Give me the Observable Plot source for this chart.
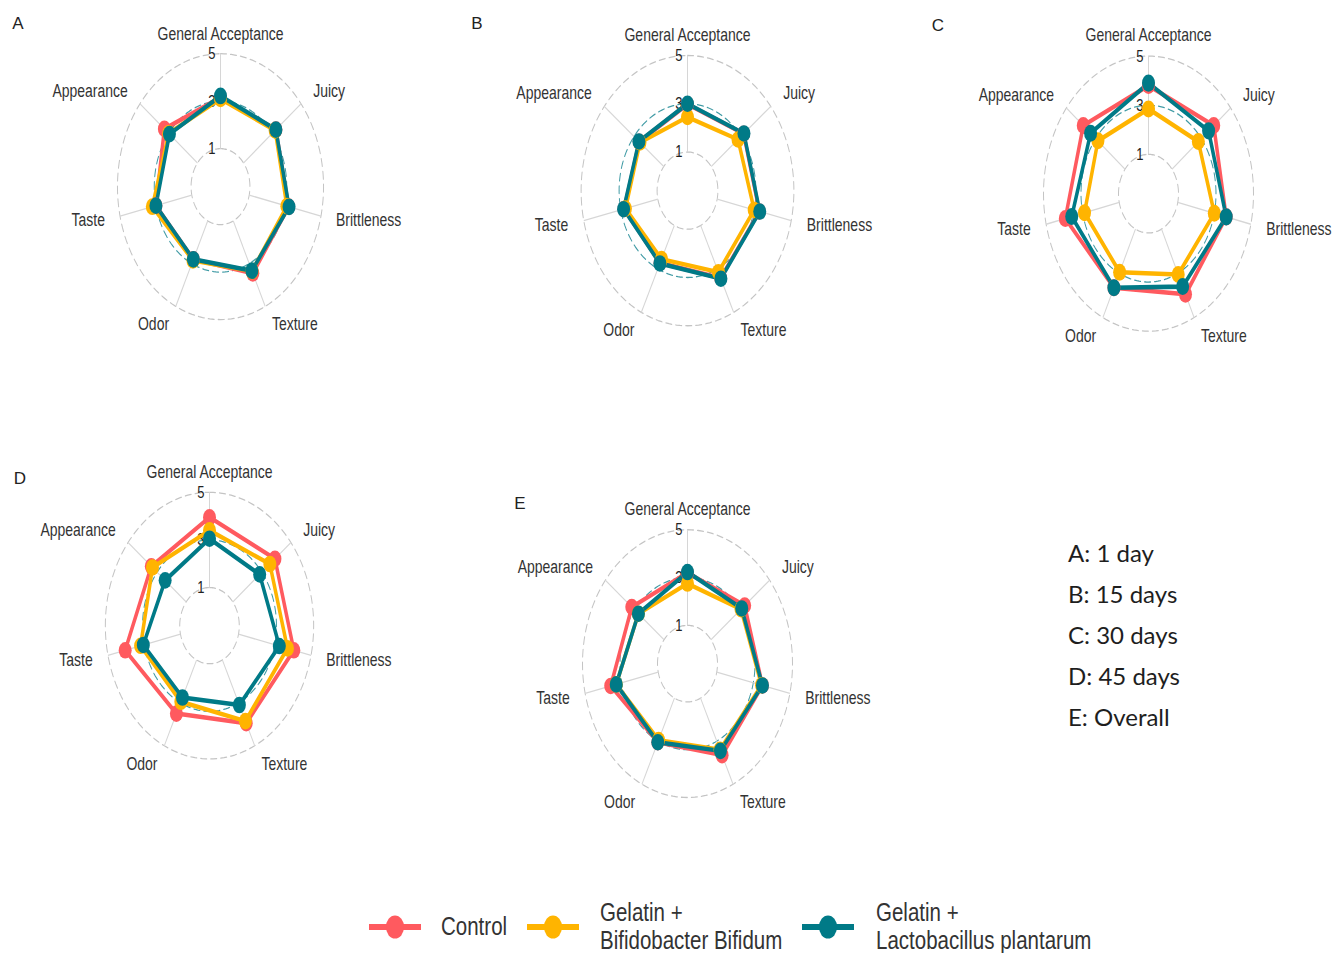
<!DOCTYPE html>
<html>
<head>
<meta charset="utf-8">
<script src="https://cdn.jsdelivr.net/npm/d3@7"></script>
<script src="https://cdn.jsdelivr.net/npm/@observablehq/plot@0.6"></script>
<style>
  html, body { margin: 0; padding: 0; background: #fff; }
  body { width: 1333px; height: 953px; position: relative; overflow: hidden;
         font-family: "Liberation Sans", Arial, sans-serif; color: #333; }
  .panel { position: absolute; transform-origin: 0 0; }
  .letter { position: absolute; font-family: "Liberation Sans", Arial, sans-serif; font-size: 17px; color: #222; line-height: 17px; transform: translate(-50%, -50%); }
  .notes { position: absolute; left: 1068px; top: 532px; font-family: Lato, "Open Sans", sans-serif; font-size: 24px; line-height: 41px; color: #1e1e1e; }
  .legtext { position: absolute; font-size: 20.5px; color: #333; transform-origin: 0 50%; white-space: nowrap; }
  .legsw { position: absolute; transform-origin: 0 50%; }
</style>
</head>
<body>
<script>
// ---------------- data ----------------
const attributes = ["General Acceptance", "Juicy", "Brittleness", "Texture", "Odor", "Taste", "Appearance"];
const groups = ["Control", "Gelatin + Bifidobacter Bifidum", "Gelatin + Lactobacillus plantarum"];
const legendLines = [["Control"], ["Gelatin +", "Bifidobacter Bifidum"], ["Gelatin +", "Lactobacillus plantarum"]];
const groupColors = ["#FF5A5F", "#FFB400", "#007A87"];
const panelLetters = ["A", "B", "C", "D", "E"];
const panelNotes = ["A: 1 day", "B: 15 days", "C: 30 days", "D: 45 days", "E: Overall"];
const gridValues = [1, 3, 5];
const gridLabels = ["1", "3", "5"];

// A: 1 day
const aControl = [3.15, 3.25, 3.20, 3.45, 2.80, 3.00, 3.30];
const aBifido  = [3.10, 3.20, 3.10, 3.35, 2.85, 3.20, 3.00];
const aLacto   = [3.22, 3.25, 3.22, 3.33, 2.80, 3.00, 2.95];
// B: 15 days
const bControl = [2.98, 3.18, 3.28, 3.42, 2.73, 2.83, 2.65];
const bBifido  = [2.45, 2.80, 3.00, 3.15, 2.55, 2.75, 2.60];
const bLacto   = [3.00, 3.20, 3.30, 3.45, 2.75, 2.85, 2.67];
// C: 30 days
const cControl = [3.80, 3.85, 3.65, 3.95, 3.65, 3.95, 3.85];
const cBifido  = [2.85, 2.80, 3.00, 3.05, 2.95, 2.90, 2.85];
const cLacto   = [3.90, 3.50, 3.65, 3.60, 3.65, 3.60, 3.35];
// D: 45 days
const dControl = [3.95, 3.90, 4.05, 3.95, 3.50, 4.05, 3.40];
const dBifido  = [3.40, 3.55, 3.70, 3.85, 2.95, 3.20, 3.32];
const dLacto   = [3.05, 2.85, 3.25, 3.10, 2.75, 3.05, 2.45];
// E: overall
const eControl = [3.20, 3.30, 3.50, 3.65, 3.05, 3.60, 3.20];
const eBifido  = [2.75, 3.05, 3.45, 3.40, 2.95, 3.30, 2.75];
const eLacto   = [3.23, 3.10, 3.50, 3.45, 3.05, 3.30, 2.75];

// ---------------- layout ----------------
const centreValue = -0.6;          // value at the radar centre
const labelOffset = 1.15;          // axis labels at 1.15 x outer grid radius
const panelGeom = [
  {cx: 220,    cy: 186,   k: 18.4,  s: 1.29,  right: 405,  lx: 18,  ly: 23},
  {cx: 686.5,  cy: 190,   k: 19.0,  s: 1.27,  right: 875,  lx: 477, ly: 23},
  {cx: 1147.5, cy: 192.5, k: 18.75, s: 1.31,  right: 1333, lx: 938, ly: 25},
  {cx: 208.5,  cy: 625,   k: 18.6,  s: 1.28,  right: 395,  lx: 20,  ly: 478},
  {cx: 687,    cy: 663,   k: 18.75, s: 1.275, right: 875,  lx: 520, ly: 503}
];
const panelSeries = [
  [aControl, aBifido, aLacto],
  [bControl, bBifido, bLacto],
  [cControl, cBifido, cLacto],
  [dControl, dBifido, dLacto],
  [eControl, eBifido, eLacto]
];

const n = attributes.length;
const ang = attributes.map((_, i) => 2 * Math.PI * i / n);
const R = v => v - centreValue;
const px = (v, i) => R(v) * Math.sin(ang[i]);
const py = (v, i) => R(v) * Math.cos(ang[i]);

function radar(p, series) {
  const L = p.cx - 205;
  const W = p.right - L;
  const Hpage = 360;
  const H = Hpage / p.s;
  const marks = [];
  // grid ellipses (dashed)
  gridValues.forEach((g, j) => {
    const pts = d3.range(0, 361, 2).map(t => ({x: R(g) * Math.sin(t * Math.PI / 180), y: R(g) * Math.cos(t * Math.PI / 180)}));
    marks.push(Plot.line(pts, {x: "x", y: "y", stroke: j === 1 ? "#007A87" : "#C4C4C4",
      strokeWidth: 1, strokeDasharray: "6,4", strokeOpacity: j === 1 ? 0.75 : 1}));
  });
  // axis spokes
  const gmin = gridValues[0], gmax = gridValues[gridValues.length - 1];
  marks.push(Plot.link(attributes, {
    x1: (d, i) => px(gmin, i), y1: (d, i) => py(gmin, i),
    x2: (d, i) => px(gmax, i), y2: (d, i) => py(gmax, i),
    stroke: "#D6D6D6", strokeWidth: 1
  }));
  // axis labels
  const lv = R(gmax) * labelOffset + centreValue;
  const common = {x: (d, i) => px(lv, i), y: (d, i) => py(lv, i), text: d => d, fontSize: 14, fill: "#333"};
  marks.push(Plot.text(attributes, {...common, filter: (d, i) => i === 0, textAnchor: "middle"}));
  marks.push(Plot.text(attributes, {...common, filter: (d, i) => i > 0 && Math.sin(ang[i]) > 0, textAnchor: "start"}));
  marks.push(Plot.text(attributes, {...common, filter: (d, i) => i > 0 && Math.sin(ang[i]) < 0, textAnchor: "end"}));
  // grid labels
  marks.push(Plot.text(gridValues, {x: () => 0, y: g => R(g), text: (g, i) => gridLabels[i],
    textAnchor: "end", dx: -5, fontSize: 13, fill: "#222"}));
  // group polygons
  series.forEach((vals, gi) => {
    marks.push(Plot.line(attributes, {x: (d, i) => px(vals[i], i), y: (d, i) => py(vals[i], i),
      curve: "linear-closed", stroke: groupColors[gi], strokeWidth: 3.5, strokeLinejoin: "round"}));
  });
  series.forEach((vals, gi) => {
    marks.push(Plot.dot(attributes, {x: (d, i) => px(vals[i], i), y: (d, i) => py(vals[i], i),
      r: 6.5, fill: groupColors[gi]}));
  });
  const svg = Plot.plot({
    width: W, height: H, margin: 0, axis: null,
    x: {domain: [(L - p.cx) / p.k, (p.right - p.cx) / p.k], range: [0, W]},
    y: {domain: [-H / 2 / p.k, H / 2 / p.k], range: [H, 0]},
    style: {background: "none", overflow: "visible", fontFamily: "'Liberation Sans', Arial, sans-serif"},
    marks
  });
  svg.classList.add("panel");
  svg.style.left = L + "px";
  svg.style.top = (p.cy - Hpage / 2) + "px";
  svg.style.transform = `scale(1, ${p.s})`;
  svg.style.maxWidth = "none";
  svg.style.overflow = "visible";
  return svg;
}

panelGeom.forEach((p, i) => {
  document.body.appendChild(radar(p, panelSeries[i]));
  const lt = document.createElement("div");
  lt.className = "letter";
  lt.style.left = p.lx + "px";
  lt.style.top = p.ly + "px";
  lt.textContent = panelLetters[i];
  document.body.appendChild(lt);
});

// notes block
const notes = document.createElement("div");
notes.className = "notes";
notes.innerHTML = panelNotes.map(t => `<div>${t}</div>`).join("");
document.body.appendChild(notes);

// legend
const legendY = 927, legendS = 1.29;
const swatchX = [395, 553, 828];
const textX = [441, 600, 876];
groups.forEach((g, i) => {
  const sw = document.createElementNS("http://www.w3.org/2000/svg", "svg");
  sw.setAttribute("width", 52); sw.setAttribute("height", 22);
  sw.classList.add("legsw");
  sw.style.left = (swatchX[i] - 26) + "px";
  sw.style.top = (legendY - 11) + "px";
  sw.style.transform = `scale(1, ${legendS})`;
  sw.innerHTML = `<line x1="0" x2="52" y1="11" y2="11" stroke="${groupColors[i]}" stroke-width="4.5"/>` +
                 `<circle cx="26" cy="11" r="9" fill="${groupColors[i]}"/>`;
  document.body.appendChild(sw);
  const tx = document.createElement("div");
  tx.className = "legtext";
  const lines = legendLines[i];
  const lh = lines.length > 1 ? 21.7 : 24;
  tx.style.lineHeight = lh + "px";
  tx.style.left = textX[i] + "px";
  tx.style.top = (legendY - 1 - lh * lines.length / 2) + "px";
  tx.style.transform = `scale(1, ${legendS})`;
  tx.innerHTML = lines.map(t => `<div>${t}</div>`).join("");
  document.body.appendChild(tx);
});
</script>
</body>
</html>
